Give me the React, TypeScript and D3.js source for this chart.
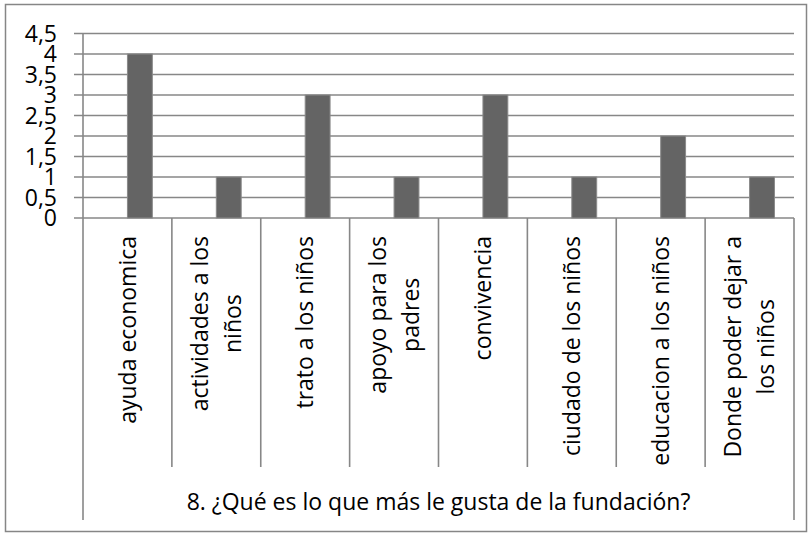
import React from 'react';
import * as d3 from 'd3';

// chart data
const categories = [
  'ayuda economica',
  'actividades a los\nniños',
  'trato a los niños',
  'apoyo para los\npadres',
  'convivencia',
  'ciudado de los niños',
  'educacion a los niños',
  'Donde poder dejar a\nlos niños',
];
const values = [4, 1, 3, 1, 3, 1, 2, 1];
const yTicks = [0, 0.5, 1, 1.5, 2, 2.5, 3, 3.5, 4, 4.5];
const axisTitle = '8. ¿Qué es lo que más le gusta de la fundación?';

const App = () => {
  const ref = React.useRef<SVGSVGElement>(null);

  React.useEffect(() => {
    const svg = d3.select(ref.current);
    svg.selectAll('*').remove();

    const font = '"Open Sans", sans-serif';
    const fontSize = 23;
    const grid = '#878787';

    const left = 83, right = 794, top = 33.5, bottom = 218;
    const labelBottom = 467, axisBottom = 520;

    const x = d3.scaleBand<string>().domain(categories).range([left, right]);
    const y = d3.scaleLinear().domain([0, 4.5]).range([bottom, top]);
    const bw = x.bandwidth();

    // outer border
    svg.append('rect')
      .attr('x', 5.5).attr('y', 4.5)
      .attr('width', 801).attr('height', 527)
      .attr('fill', 'white').attr('stroke', '#868686').attr('stroke-width', 1.5);

    // gridlines + ticks
    svg.append('g')
      .selectAll('line')
      .data(yTicks)
      .join('line')
      .attr('x1', left - 9).attr('x2', right)
      .attr('y1', (d) => y(d)).attr('y2', (d) => y(d))
      .attr('stroke', grid).attr('stroke-width', 1.6);

    // y labels (crowded like in the original)
    svg.append('g')
      .style('font-family', font).style('font-size', `${fontSize}px`)
      .attr('text-anchor', 'end')
      .selectAll('text')
      .data(yTicks)
      .join('text')
      .attr('x', 57)
      .attr('y', (d) => y(d))
      .attr('dy', '0.36em')
      .attr('fill', '#000')
      .text((d) => String(d).replace('.', ','));

    // bars sit in the right half of each band
    svg.append('g')
      .selectAll('rect')
      .data(values)
      .join('rect')
      .attr('x', (d, i) => x(categories[i])! + bw / 2)
      .attr('width', bw * 0.28)
      .attr('y', (d) => y(d))
      .attr('height', (d) => y(0) - y(d))
      .attr('fill', '#646464')
      .attr('stroke', '#8a8a8a')
      .attr('stroke-width', 1);

    // axis lines
    svg.append('line')
      .attr('x1', left).attr('x2', left)
      .attr('y1', top).attr('y2', axisBottom)
      .attr('stroke', grid).attr('stroke-width', 1.6);
    svg.append('line')
      .attr('x1', right).attr('x2', right)
      .attr('y1', bottom).attr('y2', axisBottom)
      .attr('stroke', grid).attr('stroke-width', 1.6);
    svg.append('g')
      .selectAll('line')
      .data(categories.slice(1))
      .join('line')
      .attr('x1', (d) => x(d)!).attr('x2', (d) => x(d)!)
      .attr('y1', bottom).attr('y2', labelBottom)
      .attr('stroke', grid).attr('stroke-width', 1.6);

    // rotated category labels, top aligned, lines centred on each other
    const lineH = 33;
    const labelTop = 236;
    const lab = svg.append('g')
      .style('font-family', font).style('font-size', `${fontSize}px`)
      .attr('fill', '#000');
    categories.forEach((c) => {
      const lines = c.split('\n');
      const cx = x(c)! + bw / 2;
      const nodes = lines.map((l) => lab.append('text').attr('text-anchor', 'middle').attr('dy', '0.36em').text(l));
      const maxLen = d3.max(nodes, (n) => (n.node() as SVGTextElement).getComputedTextLength()) || 0;
      const cy = labelTop + maxLen / 2;
      nodes.forEach((n, i) => {
        const lx = cx + (i - (lines.length - 1) / 2) * lineH;
        n.attr('transform', `translate(${lx},${cy}) rotate(-90)`);
      });
    });

    // axis title
    svg.append('text')
      .attr('x', (left + right) / 2)
      .attr('y', 510)
      .attr('text-anchor', 'middle')
      .style('font-family', font).style('font-size', `${fontSize}px`)
      .attr('fill', '#000')
      .text(axisTitle);
  }, []);

  return (
    <svg
      ref={ref}
      width={812}
      height={533}
      style={{ position: 'absolute', left: 0, top: 0, display: 'block', background: 'white' }}
    />
  );
};

export default App;
